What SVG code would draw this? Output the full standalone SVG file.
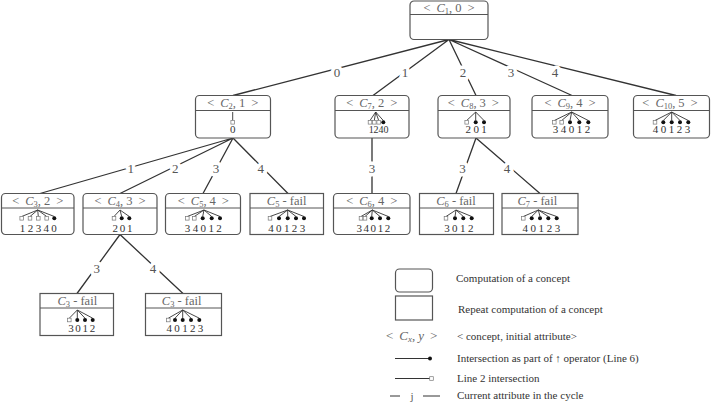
<svg xmlns="http://www.w3.org/2000/svg" width="713" height="406" viewBox="0 0 713 406">
<style>
.box{fill:#fff;stroke:#555;stroke-width:1.2}
.dv{stroke:#555;stroke-width:1}
.hdr{font-family:"Liberation Serif",serif;font-size:12.5px;fill:#666;text-anchor:middle}
.it{font-style:italic}
.sub{font-size:8.5px}
.dig{font-family:"Liberation Serif",serif;font-size:11px;fill:#333;text-anchor:middle}
.fan{stroke:#333;stroke-width:0.9;fill:none}
.sq{fill:#fff;stroke:#777;stroke-width:0.7}
.dot{fill:#111}
.edge{stroke:#333;stroke-width:1.3;fill:none}
.lbl{font-family:"Liberation Serif",serif;font-size:13px;fill:#555;text-anchor:middle}
.halo{fill:#fff;stroke:#fff;stroke-width:7;stroke-linejoin:round}
.leg{font-family:"Liberation Serif",serif;font-size:11px;fill:#333}
</style>
<defs>
<rect id="s" class="sq" x="-1.8" y="-1.8" width="3.6" height="3.6"/>
<circle id="d" class="dot" r="2"/>
</defs>

<g id="connectors">
<path class="edge" d="M449,39.5L233,95.5M449,39.5L373,95.5M449,39.5L476,95.5M449,39.5L572,95.5M449,39.5L676,95.5"/>
<path class="edge" d="M233,138L40,193.5M233,138L120,193.5M233,138L203,193.5M233,138L288,193.5"/>
<path class="edge" d="M372,138L372,193.5M476,138L456,193.5M476,138L540,193.5"/>
<path class="edge" d="M120,234.5L77,293.5M120,234.5L183,293.5"/>
<g class="lbl halo">
<text x="337" y="76.5">0</text><text x="405" y="76.5">1</text><text x="463" y="76.5">2</text><text x="511" y="76.5">3</text><text x="555" y="76.5">4</text>
<text x="130.7" y="172.5">1</text><text x="175.3" y="172.5">2</text><text x="216" y="172.5">3</text><text x="260.7" y="172.5">4</text>
<text x="372" y="172.5">3</text><text x="462.5" y="172.5">3</text><text x="507" y="172.5">4</text>
<text x="96.7" y="272.5">3</text><text x="153" y="272.5">4</text>
</g>
<g class="lbl">
<text x="337" y="76.5">0</text><text x="405" y="76.5">1</text><text x="463" y="76.5">2</text><text x="511" y="76.5">3</text><text x="555" y="76.5">4</text>
<text x="130.7" y="172.5">1</text><text x="175.3" y="172.5">2</text><text x="216" y="172.5">3</text><text x="260.7" y="172.5">4</text>
<text x="372" y="172.5">3</text><text x="462.5" y="172.5">3</text><text x="507" y="172.5">4</text>
<text x="96.7" y="272.5">3</text><text x="153" y="272.5">4</text>
</g>
</g>

<g id="n-c1-0">
<rect class="box" x="410" y="1" width="78" height="38.5" rx="4"/>
<line class="dv" x1="410" y1="14.5" x2="488" y2="14.5"/>
<text class="hdr" x="449" y="11.5">&lt;<tspan class="it" dx="6">C</tspan><tspan class="sub" dy="2">1</tspan><tspan dy="-2">,</tspan><tspan dx="3">0</tspan><tspan dx="6">&gt;</tspan></text>
</g>

<g id="n-c2-1">
<rect class="box" x="195.5" y="95.5" width="75" height="42.5" rx="4"/>
<line class="dv" x1="195.5" y1="110.5" x2="270.5" y2="110.5"/>
<text class="hdr" x="232.7" y="107">&lt;<tspan class="it" dx="6">C</tspan><tspan class="sub" dy="2">2</tspan><tspan dy="-2">,</tspan><tspan dx="3">1</tspan><tspan dx="6">&gt;</tspan></text>
<line class="fan" x1="232.7" y1="112" x2="232.7" y2="120.5"/>
<use href="#s" x="232.7" y="122.3"/>
<text class="dig" x="232.7" y="133">0</text>
</g>

<g id="n-c7-2">
<rect class="box" x="335" y="95.5" width="74" height="42.5" rx="4"/>
<line class="dv" x1="335" y1="110.5" x2="409" y2="110.5"/>
<text class="hdr" x="371.7" y="107">&lt;<tspan class="it" dx="6">C</tspan><tspan class="sub" dy="2">7</tspan><tspan dy="-2">,</tspan><tspan dx="3">2</tspan><tspan dx="6">&gt;</tspan></text>
<path class="fan" d="M375.7,112L370,120.5M375.7,112L374.3,120.5M375.7,112L378.7,120.5M375.7,112L383.3,120.5"/>
<use href="#s" x="370" y="122.3"/><use href="#s" x="374.3" y="122.3"/><use href="#s" x="378.7" y="122.3"/><use href="#d" x="383.3" y="122.3"/>
<text class="dig" style="font-size:10px" x="371.2 376.1 381 385.9" y="133">1240</text>
</g>

<g id="n-c8-3">
<rect class="box" x="438" y="95.5" width="72" height="42.5" rx="4"/>
<line class="dv" x1="438" y1="110.5" x2="510" y2="110.5"/>
<text class="hdr" x="473.3" y="107">&lt;<tspan class="it" dx="6">C</tspan><tspan class="sub" dy="2">8</tspan><tspan dy="-2">,</tspan><tspan dx="3">3</tspan><tspan dx="6">&gt;</tspan></text>
<path class="fan" d="M475.7,112L466.7,120.5M475.7,112L475.7,120.5M475.7,112L484,120.5"/>
<use href="#s" x="466.7" y="122.3"/><use href="#d" x="475.7" y="122.3"/><use href="#d" x="484" y="122.3"/>
<text class="dig" x="468.3 476.2 484" y="133">201</text>
</g>

<g id="n-c9-4">
<rect class="box" x="532" y="95.5" width="76" height="42.5" rx="4"/>
<line class="dv" x1="532" y1="110.5" x2="608" y2="110.5"/>
<text class="hdr" x="570" y="107">&lt;<tspan class="it" dx="6">C</tspan><tspan class="sub" dy="2">9</tspan><tspan dy="-2">,</tspan><tspan dx="3">4</tspan><tspan dx="6">&gt;</tspan></text>
<path class="fan" d="M571.7,112L554.3,120.5M571.7,112L561.7,120.5M571.7,112L570,120.5M571.7,112L579.3,120.5M571.7,112L588.3,120.5"/>
<use href="#s" x="554.3" y="122.3"/><use href="#s" x="561.7" y="122.3"/><use href="#d" x="570" y="122.3"/><use href="#d" x="579.3" y="122.3"/><use href="#d" x="588.3" y="122.3"/>
<text class="dig" x="555.6 563.5 571.5 579.4 587.4" y="133">34012</text>
</g>

<g id="n-c10-5">
<rect class="box" x="633.5" y="95.5" width="76" height="42.5" rx="4"/>
<line class="dv" x1="633.5" y1="110.5" x2="709.5" y2="110.5"/>
<text class="hdr" x="670" y="107">&lt;<tspan class="it" dx="6">C</tspan><tspan class="sub" dy="2">10</tspan><tspan dy="-2">,</tspan><tspan dx="3">5</tspan><tspan dx="6">&gt;</tspan></text>
<path class="fan" d="M671.7,112L655,120.5M671.7,112L663.3,120.5M671.7,112L671.7,120.5M671.7,112L680,120.5M671.7,112L688.3,120.5"/>
<use href="#s" x="655" y="122.3"/><use href="#d" x="663.3" y="122.3"/><use href="#d" x="671.7" y="122.3"/><use href="#d" x="680" y="122.3"/><use href="#d" x="688.3" y="122.3"/>
<text class="dig" x="655.6 663.5 671.5 679.4 687.4" y="133">40123</text>
</g>

<g id="n-c3-2">
<rect class="box" x="1.5" y="193.5" width="72.5" height="41" rx="4"/>
<line class="dv" x1="1.5" y1="208" x2="74" y2="208"/>
<text class="hdr" x="37.7" y="204.5">&lt;<tspan class="it" dx="6">C</tspan><tspan class="sub" dy="2">3</tspan><tspan dy="-2">,</tspan><tspan dx="3">2</tspan><tspan dx="6">&gt;</tspan></text>
<path class="fan" d="M37.7,210L21.7,216.5M37.7,210L30,216.5M37.7,210L38.3,216.5M37.7,210L46.7,216.5M37.7,210L54.3,216.5"/>
<use href="#s" x="21.7" y="218.3"/><use href="#s" x="30" y="218.3"/><use href="#s" x="38.3" y="218.3"/><use href="#s" x="46.7" y="218.3"/><use href="#d" x="54.3" y="218.3"/>
<text class="dig" x="22.6 30.5 38.4 46.2 54.1" y="231.5">12340</text>
</g>

<g id="n-c4-3">
<rect class="box" x="83" y="193.5" width="74" height="41" rx="4"/>
<line class="dv" x1="83" y1="208" x2="157" y2="208"/>
<text class="hdr" x="120" y="204.5">&lt;<tspan class="it" dx="6">C</tspan><tspan class="sub" dy="2">4</tspan><tspan dy="-2">,</tspan><tspan dx="3">3</tspan><tspan dx="6">&gt;</tspan></text>
<path class="fan" d="M120,210L114,216.5M120,210L121.7,216.5M120,210L129.3,216.5"/>
<use href="#s" x="114" y="218.3"/><use href="#d" x="121.7" y="218.3"/><use href="#d" x="129.3" y="218.3"/>
<text class="dig" x="115.2 122.5 129.8" y="231.5">201</text>
</g>

<g id="n-c5-4">
<rect class="box" x="165.5" y="193.5" width="75" height="41" rx="4"/>
<line class="dv" x1="165.5" y1="208" x2="240.5" y2="208"/>
<text class="hdr" x="203.3" y="204.5">&lt;<tspan class="it" dx="6">C</tspan><tspan class="sub" dy="2">5</tspan><tspan dy="-2">,</tspan><tspan dx="3">4</tspan><tspan dx="6">&gt;</tspan></text>
<path class="fan" d="M204,210L187.3,216.5M204,210L194.3,216.5M204,210L202.7,216.5M204,210L211.7,216.5M204,210L220,216.5"/>
<use href="#s" x="187.3" y="218.3"/><use href="#s" x="194.3" y="218.3"/><use href="#d" x="202.7" y="218.3"/><use href="#d" x="211.7" y="218.3"/><use href="#d" x="220" y="218.3"/>
<text class="dig" x="187.6 195.4 203.3 211.2 219.1" y="231.5">34012</text>
</g>

<g id="n-c5-fail">
<rect class="box" x="250" y="193.5" width="73.5" height="41"/>
<line class="dv" x1="250" y1="208" x2="323.5" y2="208"/>
<text class="hdr" x="286.7" y="204.5"><tspan class="it">C</tspan><tspan class="sub" dy="2">5</tspan><tspan dy="-2"> - fail</tspan></text>
<path class="fan" d="M287.7,210L270,216.5M287.7,210L279,216.5M287.7,210L287.7,216.5M287.7,210L296,216.5M287.7,210L304,216.5"/>
<use href="#s" x="270" y="218.3"/><use href="#d" x="279" y="218.3"/><use href="#d" x="287.7" y="218.3"/><use href="#d" x="296" y="218.3"/><use href="#d" x="304" y="218.3"/>
<text class="dig" x="270.9 278.8 286.7 294.5 302.4" y="231.5">40123</text>
</g>

<g id="n-c6-4">
<rect class="box" x="333.5" y="193.5" width="76.5" height="41" rx="4"/>
<line class="dv" x1="333.5" y1="208" x2="410" y2="208"/>
<text class="hdr" x="371.7" y="204.5">&lt;<tspan class="it" dx="6">C</tspan><tspan class="sub" dy="2">6</tspan><tspan dy="-2">,</tspan><tspan dx="3">4</tspan><tspan dx="6">&gt;</tspan></text>
<path class="fan" d="M372.3,210L361,216.5M372.3,210L365,216.5M372.3,210L371.7,216.5M372.3,210L380,216.5M372.3,210L388.3,216.5"/>
<use href="#s" x="361" y="218.3"/><use href="#s" x="365" y="218.3"/><use href="#d" x="371.7" y="218.3"/><use href="#d" x="380" y="218.3"/><use href="#d" x="388.3" y="218.3"/>
<text class="dig" x="359.3 366.3 373.3 380.4 387.4" y="231.5">34012</text>
</g>

<g id="n-c6-fail">
<rect class="box" x="419.5" y="193.5" width="74" height="41"/>
<line class="dv" x1="419.5" y1="208" x2="493.5" y2="208"/>
<text class="hdr" x="456" y="204.5"><tspan class="it">C</tspan><tspan class="sub" dy="2">6</tspan><tspan dy="-2"> - fail</tspan></text>
<path class="fan" d="M456,210L446,216.5M456,210L455,216.5M456,210L463.3,216.5M456,210L471.7,216.5"/>
<use href="#s" x="446" y="218.3"/><use href="#d" x="455" y="218.3"/><use href="#d" x="463.3" y="218.3"/><use href="#d" x="471.7" y="218.3"/>
<text class="dig" x="446.9 454.8 462.8 470.7" y="231.5">3012</text>
</g>

<g id="n-c7-fail">
<rect class="box" x="502" y="193.5" width="76" height="41"/>
<line class="dv" x1="502" y1="208" x2="578" y2="208"/>
<text class="hdr" x="537.3" y="204.5"><tspan class="it">C</tspan><tspan class="sub" dy="2">7</tspan><tspan dy="-2"> - fail</tspan></text>
<path class="fan" d="M538.3,210L523.3,216.5M538.3,210L531.7,216.5M538.3,210L540,216.5M538.3,210L548.3,216.5M538.3,210L556.7,216.5"/>
<use href="#s" x="523.3" y="218.3"/><use href="#d" x="531.7" y="218.3"/><use href="#d" x="540" y="218.3"/><use href="#d" x="548.3" y="218.3"/><use href="#d" x="556.7" y="218.3"/>
<text class="dig" x="525.3 533.3 541.3 549.4 557.4" y="231.5">40123</text>
</g>

<g id="n-c3-fail-a">
<rect class="box" x="40" y="293.5" width="73.5" height="42"/>
<line class="dv" x1="40" y1="308" x2="113.5" y2="308"/>
<text class="hdr" x="77.3" y="304.5"><tspan class="it">C</tspan><tspan class="sub" dy="2">3</tspan><tspan dy="-2"> - fail</tspan></text>
<path class="fan" d="M77.3,310L69.3,318.2M77.3,310L77.3,318.2M77.3,310L85,318.2M77.3,310L92.7,318.2"/>
<use href="#s" x="69.3" y="320"/><use href="#d" x="77.3" y="320"/><use href="#d" x="85" y="320"/><use href="#d" x="92.7" y="320"/>
<text class="dig" x="70.9 78.1 85.2 92.4" y="331.7">3012</text>
</g>

<g id="n-c3-fail-b">
<rect class="box" x="145.5" y="293.5" width="76" height="42"/>
<line class="dv" x1="145.5" y1="308" x2="221.5" y2="308"/>
<text class="hdr" x="181.7" y="304.5"><tspan class="it">C</tspan><tspan class="sub" dy="2">3</tspan><tspan dy="-2"> - fail</tspan></text>
<path class="fan" d="M182.7,310L168.3,318.2M182.7,310L175,318.2M182.7,310L182.7,318.2M182.7,310L191,318.2M182.7,310L199.3,318.2"/>
<use href="#s" x="168.3" y="320"/><use href="#d" x="175" y="320"/><use href="#d" x="182.7" y="320"/><use href="#d" x="191" y="320"/><use href="#d" x="199.3" y="320"/>
<text class="dig" x="169.3 177.1 184.9 192.8 200.6" y="331.7">40123</text>
</g>

<g id="legend">
<rect class="box" x="395.5" y="269" width="37" height="23" rx="4"/>
<rect class="box" x="395.5" y="296" width="37" height="24"/>
<text class="hdr" style="font-size:13px" x="411.7" y="340">&lt;<tspan class="it" dx="6">C</tspan><tspan class="sub it" style="font-size:9px" dy="2">x</tspan><tspan dy="-2">,</tspan><tspan class="it" dx="3">y</tspan><tspan dx="6">&gt;</tspan></text>
<line class="edge" x1="395" y1="358.5" x2="430" y2="358.5" style="stroke-width:1"/>
<use href="#d" x="430" y="358.5"/>
<line class="edge" x1="395" y1="378.5" x2="430" y2="378.5" style="stroke-width:1"/>
<use href="#s" x="431.5" y="378.5"/>
<line class="edge" x1="390" y1="396" x2="400" y2="396" style="stroke-width:1"/>
<text class="leg" x="412" y="399.5" style="text-anchor:middle;fill:#555">j</text>
<line class="edge" x1="423" y1="396" x2="440" y2="396" style="stroke-width:1"/>
<text class="leg" x="456" y="281.5">Computation of a concept</text>
<text class="leg" x="458" y="312.5">Repeat computation of a concept</text>
<text class="leg" x="457" y="340">&lt; concept, initial attribute&gt;</text>
<text class="leg" x="457" y="361.5">Intersection as part of ↑ operator (Line 6)</text>
<text class="leg" x="457" y="382">Line 2 intersection</text>
<text class="leg" x="457" y="399">Current attribute in the cycle</text>
</g>
</svg>
